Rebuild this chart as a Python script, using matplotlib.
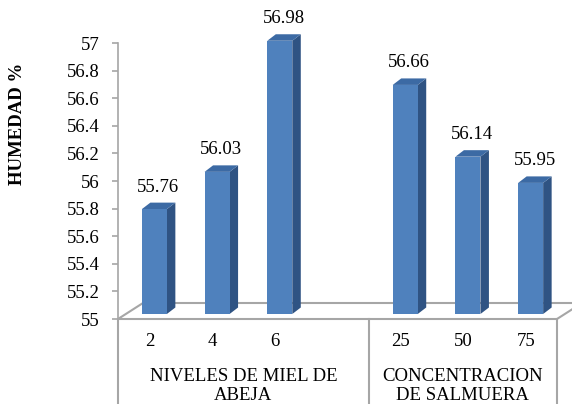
import matplotlib
matplotlib.use("Agg")
import matplotlib.pyplot as plt
from matplotlib.patches import Polygon
from matplotlib.lines import Line2D

# Data
categories = ["2", "4", "6", "", "25", "50", "75"]
humedad = [55.76, 56.03, 56.98, None, 56.66, 56.14, 55.95]
group_labels = ["NIVELES DE MIEL DE\nABEJA", "CONCENTRACION\nDE SALMUERA"]
group_bounds = [-0.5, 3.5, 6.5]
y_ticks = [55.0, 55.2, 55.4, 55.6, 55.8, 56.0, 56.2, 56.4, 56.6, 56.8, 57.0]
y_tick_labels = ["55", "55.2", "55.4", "55.6", "55.8", "56", "56.2", "56.4", "56.6", "56.8", "57"]

plt.rcParams["font.family"] = ["Liberation Serif", "DejaVu Serif"]
FS = 13.5

W, H, DPI = 572, 404, 100
fig = plt.figure(figsize=(W / DPI, H / DPI), dpi=DPI)

# axes frame in pixels (front plane)
x0, x1 = 118, 557
y_top, y_bot = 43, 319
ax = fig.add_axes([x0 / W, (H - y_bot) / H, (x1 - x0) / W, (y_bot - y_top) / H])
ax.set_xlim(-0.5, 6.5)
ax.set_ylim(55, 57)

px_x = (x1 - x0) / 7.0          # pixels per category
px_y = (y_bot - y_top) / 2.0    # pixels per unit value

def dx(p):
    return p / px_x

def dy(p):
    return p / px_y

grey = "#A6A6A6"

# Axis styling
for s in ["top", "right", "bottom"]:
    ax.spines[s].set_visible(False)
ax.spines["left"].set_color(grey)
ax.spines["left"].set_linewidth(1.2)
ax.set_xticks([])
ax.set_yticks(y_ticks)
ax.set_yticklabels(y_tick_labels, fontsize=FS)
ax.tick_params(axis="y", direction="out", length=4, width=1.2, color=grey, pad=9)
ax.patch.set_visible(False)

fig.text(18 / W, 1 - 124 / H, "HUMEDAD %", rotation=90, ha="center", va="center",
         fontsize=FS, fontweight="bold")

# Floor (3D base)
depth_x, depth_y = 25, 16
floor = [(-0.5, 55), (6.5, 55), (6.5 + dx(depth_x), 55 + dy(depth_y)), (-0.5 + dx(depth_x), 55 + dy(depth_y))]
ax.add_patch(Polygon(floor, closed=True, facecolor="none", edgecolor=grey, lw=1.5,
                     clip_on=False, zorder=1))

# Bars drawn as pseudo-3D columns
bar_w = dx(25)
shift_x, shift_y = dx(8), dy(5)
side_x, side_y = dx(8.5), dy(6.5)
front_c, side_c, top_c = "#4F81BD", "#2F5383", "#3C6AA4"

for i, v in enumerate(humedad):
    if v is None:
        continue
    xl = i - bar_w / 2 + shift_x - dx(3)
    xr = xl + bar_w
    yb = 55 + shift_y
    yt = v + shift_y
    ax.add_patch(Polygon([(xr, yb), (xr + side_x, yb + side_y), (xr + side_x, yt + side_y), (xr, yt)],
                         closed=True, facecolor=side_c, edgecolor="none", clip_on=False, zorder=3))
    ax.add_patch(Polygon([(xl, yt), (xr, yt), (xr + side_x, yt + side_y), (xl + side_x, yt + side_y)],
                         closed=True, facecolor=top_c, edgecolor="none", clip_on=False, zorder=3))
    ax.add_patch(Polygon([(xl, yb), (xr, yb), (xr, yt), (xl, yt)],
                         closed=True, facecolor=front_c, edgecolor="none", clip_on=False, zorder=4))
    ax.annotate(f"{v:.2f}", xy=((xl + xr) / 2, yt), xytext=(4 * 0.72, 22 * 0.72),
                textcoords="offset points", ha="center", va="center", fontsize=FS,
                annotation_clip=False, zorder=5)

# Category axis (multi-level)
xt = ax.get_xaxis_transform()
bottom_frac = -(H - y_bot + 5) / (y_bot - y_top)
for b in group_bounds:
    ax.add_line(Line2D([b, b], [0, bottom_frac], transform=xt, color=grey, lw=1.5, clip_on=False))

lab_y = -(342 - y_bot) / (y_bot - y_top)
for i, c in enumerate(categories):
    ax.text(i, lab_y, c, transform=xt, ha="center", va="center", fontsize=FS)

grp_y = -(386 - y_bot) / (y_bot - y_top)
for k, g in enumerate(group_labels):
    cx = (group_bounds[k] + group_bounds[k + 1]) / 2
    ax.text(cx, grp_y, g, transform=xt, ha="center", va="center", fontsize=FS, linespacing=1.2)

fig.savefig("out.png", dpi=DPI)
